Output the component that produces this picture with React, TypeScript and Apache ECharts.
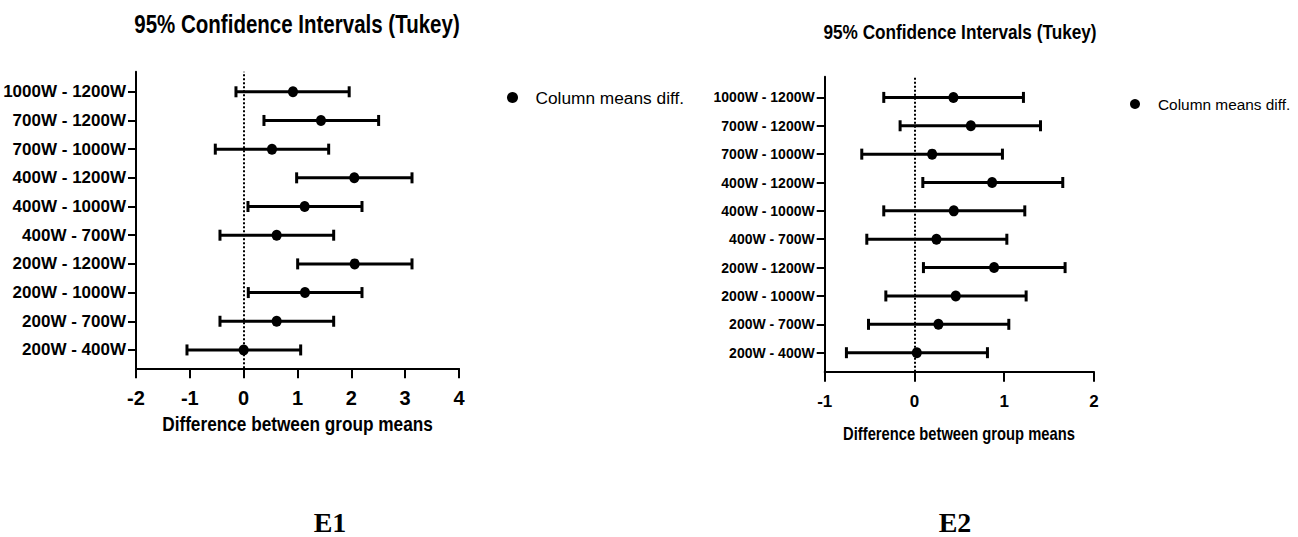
import React, { useEffect, useRef } from "react";
import * as echarts from "echarts";

// Pairwise comparisons, bottom row first
const comparisons = [
  "200W - 400W",
  "200W - 700W",
  "200W - 1000W",
  "200W - 1200W",
  "400W - 700W",
  "400W - 1000W",
  "400W - 1200W",
  "700W - 1000W",
  "700W - 1200W",
  "1000W - 1200W",
];
const rowPositions = [1, 2, 3, 4, 5, 6, 7, 8, 9, 10];

// E1: mean differences with 95% Tukey limits
const e1Mean = [0.0, 0.613, 1.139, 2.062, 0.613, 1.133, 2.055, 0.526, 1.436, 0.916];
const e1Lower = [-1.053, -0.44, 0.086, 1.003, -0.44, 0.08, 0.984, -0.527, 0.377, -0.143];
const e1Upper = [1.059, 1.672, 2.198, 3.127, 1.672, 2.198, 3.127, 1.579, 2.507, 1.96];

// E2: mean differences with 95% Tukey limits
const e2Mean = [0.026, 0.267, 0.46, 0.887, 0.245, 0.438, 0.865, 0.197, 0.628, 0.434];
const e2Lower = [-0.758, -0.512, -0.319, 0.1, -0.531, -0.342, 0.093, -0.587, -0.16, -0.342];
const e2Upper = [0.813, 1.051, 1.244, 1.678, 1.029, 1.229, 1.652, 0.98, 1.404, 1.214];

const chartTitle = "95% Confidence Intervals (Tukey)";
const xAxisTitle = "Difference between group means";
const legendName = "Column means diff.";

const SANS = "'Liberation Sans', Arial, sans-serif";
const SERIF = "'Liberation Serif', 'Times New Roman', serif";
// horizontal squeeze that gives the free-standing captions a narrow face
const NARROW_SCALE = 0.82;

function intervalRows(lower: number[], upper: number[]) {
  return rowPositions.map((r, i) => [lower[i], upper[i], r]);
}
function meanRows(mean: number[]) {
  return rowPositions.map((r, i) => [mean[i], r]);
}

function errorBarRenderer(lineWidth: number, capHalf: number) {
  return (_params: any, api: any) => {
    const row = api.value(2);
    const lo = api.coord([api.value(0), row]);
    const hi = api.coord([api.value(1), row]);
    const style = { stroke: "#000", lineWidth };
    return {
      type: "group",
      children: [
        { type: "line", shape: { x1: lo[0], y1: lo[1], x2: hi[0], y2: hi[1] }, style },
        { type: "line", shape: { x1: lo[0], y1: lo[1] - capHalf, x2: lo[0], y2: lo[1] + capHalf }, style },
        { type: "line", shape: { x1: hi[0], y1: hi[1] - capHalf, x2: hi[0], y2: hi[1] + capHalf }, style },
      ],
    };
  };
}

function panelAxes(
  gridIndex: number,
  xMin: number,
  xMax: number,
  yMin: number,
  yMax: number,
  rowFont: number,
  tickFont: number,
  labelMargin: number
) {
  const xAxis = {
    type: "value",
    gridIndex,
    min: xMin,
    max: xMax,
    interval: 1,
    splitLine: { show: false },
    axisLine: { show: true, onZero: false, lineStyle: { color: "#000", width: 2 } },
    axisTick: { show: true, length: 10, lineStyle: { color: "#000", width: 2 } },
    axisLabel: {
      fontSize: tickFont,
      fontWeight: "bold",
      fontFamily: SANS,
      color: "#000",
      margin: labelMargin,
    },
  };
  const yAxis = {
    type: "value",
    gridIndex,
    min: yMin,
    max: yMax,
    splitLine: { show: false },
    axisLine: { show: true, onZero: false, lineStyle: { color: "#000", width: 2 } },
    axisTick: { show: true, length: 8, customValues: rowPositions, lineStyle: { color: "#000", width: 2 } },
    axisLabel: {
      customValues: rowPositions,
      formatter: (v: number) => comparisons[Math.round(v) - 1] ?? "",
      fontSize: rowFont,
      fontWeight: "bold",
      fontFamily: SANS,
      color: "#000",
      margin: 10,
    },
  };
  return { xAxis, yAxis };
}

function caption(text: string, x: number, y: number, fontSize: number, fontFamily = SANS, scaleX = NARROW_SCALE) {
  return {
    type: "text",
    x,
    y,
    scaleX,
    style: { text, align: "center", verticalAlign: "middle", fontSize, fontWeight: "bold", fontFamily, fill: "#000" },
  };
}

export default function App() {
  const ref = useRef<HTMLDivElement>(null);

  useEffect(() => {
    document.body.style.margin = "0";
    if (!ref.current) return;
    const chart = echarts.init(ref.current, null, { renderer: "svg" });

    const left = panelAxes(0, -2, 4, 0.36, 10.7, 17, 20, 20);
    const right = panelAxes(1, -1, 2, 0.33, 10.73, 14, 17, 21);

    const zeroLine = (width: number) => ({
      silent: true,
      symbol: ["none", "none"],
      label: { show: false },
      lineStyle: { type: "dotted", color: "#000", width },
      data: [{ xAxis: 0 }],
    });

    const dotStyle = { color: "#000", opacity: 1 };

    chart.setOption({
      animation: false,
      backgroundColor: "#fff",
      grid: [
        { left: 136, top: 71.7, width: 323, height: 296.6, outerBoundsMode: "none" },
        { left: 824.7, top: 76.7, width: 269.3, height: 295, outerBoundsMode: "none" },
      ],
      xAxis: [left.xAxis, right.xAxis],
      yAxis: [left.yAxis, right.yAxis],
      legend: [
        {
          data: [legendName],
          left: 502,
          top: 84,
          itemWidth: 36,
          itemHeight: 11,
          icon: "circle",
          selectedMode: false,
          itemStyle: { opacity: 1, color: "#000" },
          textStyle: { fontSize: 17.3, fontFamily: SANS, color: "#000" },
        },
        {
          data: [legendName],
          left: 1125,
          top: 91.5,
          itemWidth: 36,
          itemHeight: 10,
          icon: "circle",
          selectedMode: false,
          itemStyle: { opacity: 1, color: "#000" },
          textStyle: { fontSize: 15.4, fontFamily: SANS, color: "#000" },
        },
      ],
      graphic: [
        caption(chartTitle, 297, 24, 25),
        caption(chartTitle, 960, 32, 21),
        caption(xAxisTitle, 297.5, 424, 21),
        caption(xAxisTitle, 959, 433, 18),
        caption("E1", 330, 522, 28, SERIF, 1),
        caption("E2", 955, 522, 28, SERIF, 1),
      ],
      series: [
        {
          type: "custom",
          xAxisIndex: 0,
          yAxisIndex: 0,
          renderItem: errorBarRenderer(3, 5.5),
          encode: { x: [0, 1], y: 2 },
          data: intervalRows(e1Lower, e1Upper),
          z: 2,
        },
        {
          type: "scatter",
          name: legendName,
          xAxisIndex: 0,
          yAxisIndex: 0,
          symbol: "circle",
          symbolSize: [10, 11],
          itemStyle: dotStyle,
          data: meanRows(e1Mean),
          markLine: zeroLine(2),
          z: 3,
        },
        {
          type: "custom",
          xAxisIndex: 1,
          yAxisIndex: 1,
          renderItem: errorBarRenderer(3, 5.5),
          encode: { x: [0, 1], y: 2 },
          data: intervalRows(e2Lower, e2Upper),
          z: 2,
        },
        {
          type: "scatter",
          name: legendName,
          xAxisIndex: 1,
          yAxisIndex: 1,
          symbol: "circle",
          symbolSize: [10, 11],
          itemStyle: dotStyle,
          data: meanRows(e2Mean),
          markLine: zeroLine(2),
          z: 3,
        },
      ],
    });

    return () => chart.dispose();
  }, []);

  return <div ref={ref} style={{ width: 1298, height: 537 }} />;
}
